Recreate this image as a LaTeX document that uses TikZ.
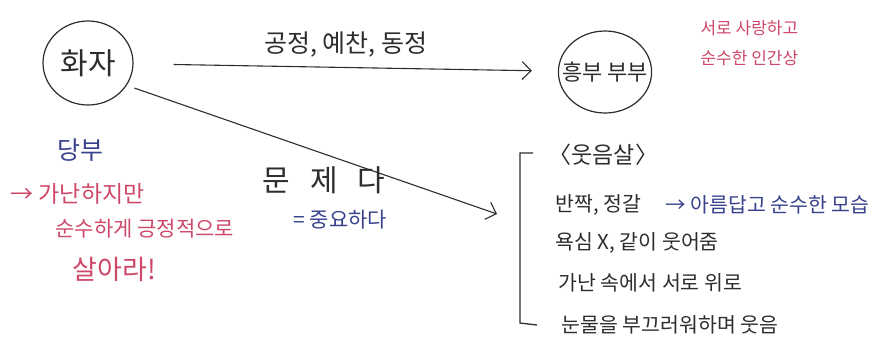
\documentclass[tikz,border=0pt]{standalone}
\usepackage{fontspec}
\setmainfont{Noto Sans CJK KR}
\usepackage{xcolor}
\usetikzlibrary{arrows.meta, positioning, shapes.geometric}

\definecolor{ink}{RGB}{45,45,45}
\definecolor{pinkpen}{RGB}{205,72,105}
\definecolor{bluepen}{RGB}{55,65,140}

\tikzset{
  person/.style={draw=ink, line width=1.2pt, ellipse, inner sep=1pt, font=\fontsize{30}{32}\selectfont, text=ink},
  note/.style={font=\fontsize{17}{19}\selectfont, inner sep=0pt, anchor=west},
  pinknote/.style={note, text=pinkpen},
  bluenote/.style={note, text=bluepen},
  inknote/.style={note, text=ink, font=\fontsize{20.5}{22}\selectfont}
}

\begin{document}
\begin{tikzpicture}[x=1pt, y=-1pt, >={Straight Barb[length=9pt, width=18pt]}, line width=1.1pt]
        \useasboundingbox (0,0) rectangle (874,349);

        \node[person, minimum width=90pt, minimum height=84pt] (hwaja) at (88,63) {화자};
        \node[person, font=\fontsize{22}{24}\selectfont, inner xsep=-10pt, inner ysep=0pt, minimum height=82pt] (heungbu) at (605,72) {흥부 부부};

        \node[pinknote] (ideal1) at (700,28) {서로 사랑하고};
        \node[pinknote, below=14pt of ideal1.south west, anchor=north west] (ideal2) {순수한 인간상};

        \node[bluenote, font=\fontsize{25}{27}\selectfont] (dangbu) at (57,150) {당부};
        \node[pinknote, font=\fontsize{23}{25}\selectfont] (ask1) at (10,194) {→ 가난하지만};
        \node[pinknote, font=\fontsize{21}{23}\selectfont] (ask2) at (55,229) {순수하게 긍정적으로};
        \node[pinknote, font=\fontsize{27}{29}\selectfont] (ask3) at (72,269) {살아라!};

        \node[inknote, font=\fontsize{30}{32}\selectfont] (munje) at (262,180) {문\hspace{20pt}제\hspace{20pt}다};
        \node[bluenote, font=\fontsize{21}{23}\selectfont] (jungyo) at (293,220) {= 중요하다};

        \coordinate (laugh) at (497,214);
        \node[inknote, font=\fontsize{23}{25}\selectfont] (smile) at (548,155) {〈웃음살〉};
        \node[inknote] (line1) at (555,205) {반짝, 정갈};
        \node[bluenote, font=\fontsize{20.5}{22}\selectfont] (beauty) at (665,205) {→ 아름답고 순수한 모습};
        \node[inknote] (line2) at (555,243) {욕심 X, 같이 웃어줌};
        \node[inknote] (line3) at (558,283) {가난 속에서 서로 위로};
        \node[inknote] (line4) at (561,325) {눈물을 부끄러워하며 웃음};

        % bracket
        \draw[ink, line width=1.3pt] (533,153) -- (520,153) -- (520,323) -- (537,325);

        \path[->, ink]
        (hwaja) edge [shorten <=40pt, shorten >=26pt] node[above=6pt, text=ink, font=\fontsize{25}{27}\selectfont] {공정, 예찬, 동정} (heungbu)
        (hwaja.-30) edge [shorten <=8pt] (laugh);

    \end{tikzpicture}
\end{document}
